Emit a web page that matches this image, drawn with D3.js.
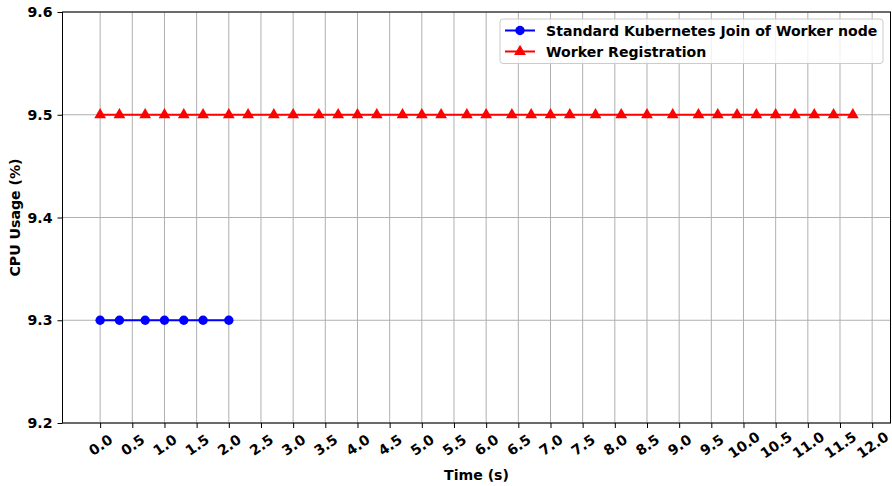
<!DOCTYPE html>
<html><head><meta charset="utf-8">
<script src="https://cdn.jsdelivr.net/npm/d3@7"></script>
<style>body{margin:0;background:#fff}svg{display:block}text{font-family:"DejaVu Sans",sans-serif;font-weight:bold}</style>
</head><body><svg id="c" width="892" height="486"></svg>
<script>
const xTicks = [0,0.5,1,1.5,2,2.5,3,3.5,4,4.5,5,5.5,6,6.5,7,7.5,8,8.5,9,9.5,10,10.5,11,11.5,12];
const yTicks = [9.2,9.3,9.4,9.5,9.6];
const joinTime = [0,0.3,0.7,1.0,1.3,1.6,2.0];
const joinCpu  = [9.3,9.3,9.3,9.3,9.3,9.3,9.3];
const regTime = [0,0.3,0.7,1.0,1.3,1.6,2.0,2.3,2.7,3.0,3.4,3.7,4.0,4.3,4.7,5.0,5.3,5.7,6.0,6.4,6.7,7.0,7.3,7.7,8.1,8.5,8.9,9.3,9.6,9.9,10.2,10.5,10.8,11.1,11.4,11.7];
const regCpu = regTime.map(() => 9.5);
const seriesNames = ["Standard Kubernetes Join of Worker node","Worker Registration"];

const svg = d3.select("#c");
const L=62.5, R=890.5, T=12, B=423;
const FS = "14.1px";
const x = d3.scaleLinear().domain([-0.585, 12.285]).range([L,R]);
const y = d3.scaleLinear().domain([9.2,9.6]).range([B,T]);

// grid
const g = svg.append("g");
g.selectAll("line.vg").data(xTicks).join("line")
  .attr("x1",d=>x(d)).attr("x2",d=>x(d)).attr("y1",T).attr("y2",B)
  .attr("stroke","#b0b0b0").attr("stroke-width",1);
g.selectAll("line.hg").data(yTicks).join("line")
  .attr("y1",d=>y(d)).attr("y2",d=>y(d)).attr("x1",L).attr("x2",R)
  .attr("stroke","#b0b0b0").attr("stroke-width",1);

// axes
const xa = svg.append("g").attr("transform",`translate(0,${B})`)
  .call(d3.axisBottom(x).tickValues(xTicks).tickFormat(d3.format(".1f")).tickSize(5).tickPadding(4));
xa.select(".domain").remove();
xa.selectAll("text").attr("font-size",FS).attr("fill","#000")
  .attr("text-anchor","middle").attr("dy",null).attr("y",null)
  .attr("transform","translate(0,22) rotate(-35)").attr("dominant-baseline","central");
const ya = svg.append("g").attr("transform",`translate(${L},0)`)
  .call(d3.axisLeft(y).tickValues(yTicks).tickFormat(d3.format(".1f")).tickSize(5).tickPadding(5));
ya.select(".domain").remove();
ya.selectAll("text").attr("font-size",FS).attr("fill","#000");
svg.selectAll(".tick line").attr("stroke","#000").attr("stroke-width",1);

svg.append("rect").attr("x",L).attr("y",T).attr("width",R-L).attr("height",B-T)
  .attr("fill","none").attr("stroke","#000").attr("stroke-width",1);

// lines
const line = d3.line().x(d=>x(d[0])).y(d=>y(d[1]));
const joinData = joinTime.map((t,i)=>[t,joinCpu[i]]);
const regData = regTime.map((t,i)=>[t,regCpu[i]]);
svg.append("path").datum(regData).attr("d",line).attr("fill","none").attr("stroke","#ff0000").attr("stroke-width",2);
svg.append("path").datum(joinData).attr("d",line).attr("fill","none").attr("stroke","#0000ff").attr("stroke-width",2);
const tri = d3.symbol().type(d3.symbolTriangle).size(60);
svg.selectAll("path.tri").data(regData).join("path").attr("class","tri")
  .attr("d",tri).attr("transform",d=>`translate(${x(d[0])},${y(d[1])})`).attr("fill","#ff0000");
svg.selectAll("circle.pt").data(joinData).join("circle").attr("class","pt")
  .attr("cx",d=>x(d[0])).attr("cy",d=>y(d[1])).attr("r",4.7).attr("fill","#0000ff");

// axis labels
svg.append("text").attr("x",(L+R)/2).attr("y",480).attr("text-anchor","middle").attr("font-size",FS).text("Time (s)");
svg.append("text").attr("transform",`translate(20,${(T+B)/2}) rotate(-90)`).attr("text-anchor","middle").attr("font-size",FS).text("CPU Usage (%)");

// legend
const lg = svg.append("g");
lg.append("rect").attr("x",500).attr("y",19).attr("width",383).attr("height",44.5).attr("rx",3)
  .attr("fill","#fff").attr("fill-opacity",0.8).attr("stroke","#cccccc").attr("stroke-width",1);
const items = [{name:seriesNames[0],color:"#0000ff",m:"c"},{name:seriesNames[1],color:"#ff0000",m:"t"}];
items.forEach((it,i)=>{
  const yy = 30.5 + i*21;
  lg.append("line").attr("x1",505).attr("x2",535).attr("y1",yy).attr("y2",yy).attr("stroke",it.color).attr("stroke-width",2);
  if(it.m==="c") lg.append("circle").attr("cx",520).attr("cy",yy).attr("r",4.7).attr("fill",it.color);
  else lg.append("path").attr("d",tri).attr("transform",`translate(520,${yy})`).attr("fill",it.color);
  lg.append("text").attr("x",546).attr("y",yy).attr("dominant-baseline","central").attr("font-size",FS).text(it.name);
});
</script></body></html>
